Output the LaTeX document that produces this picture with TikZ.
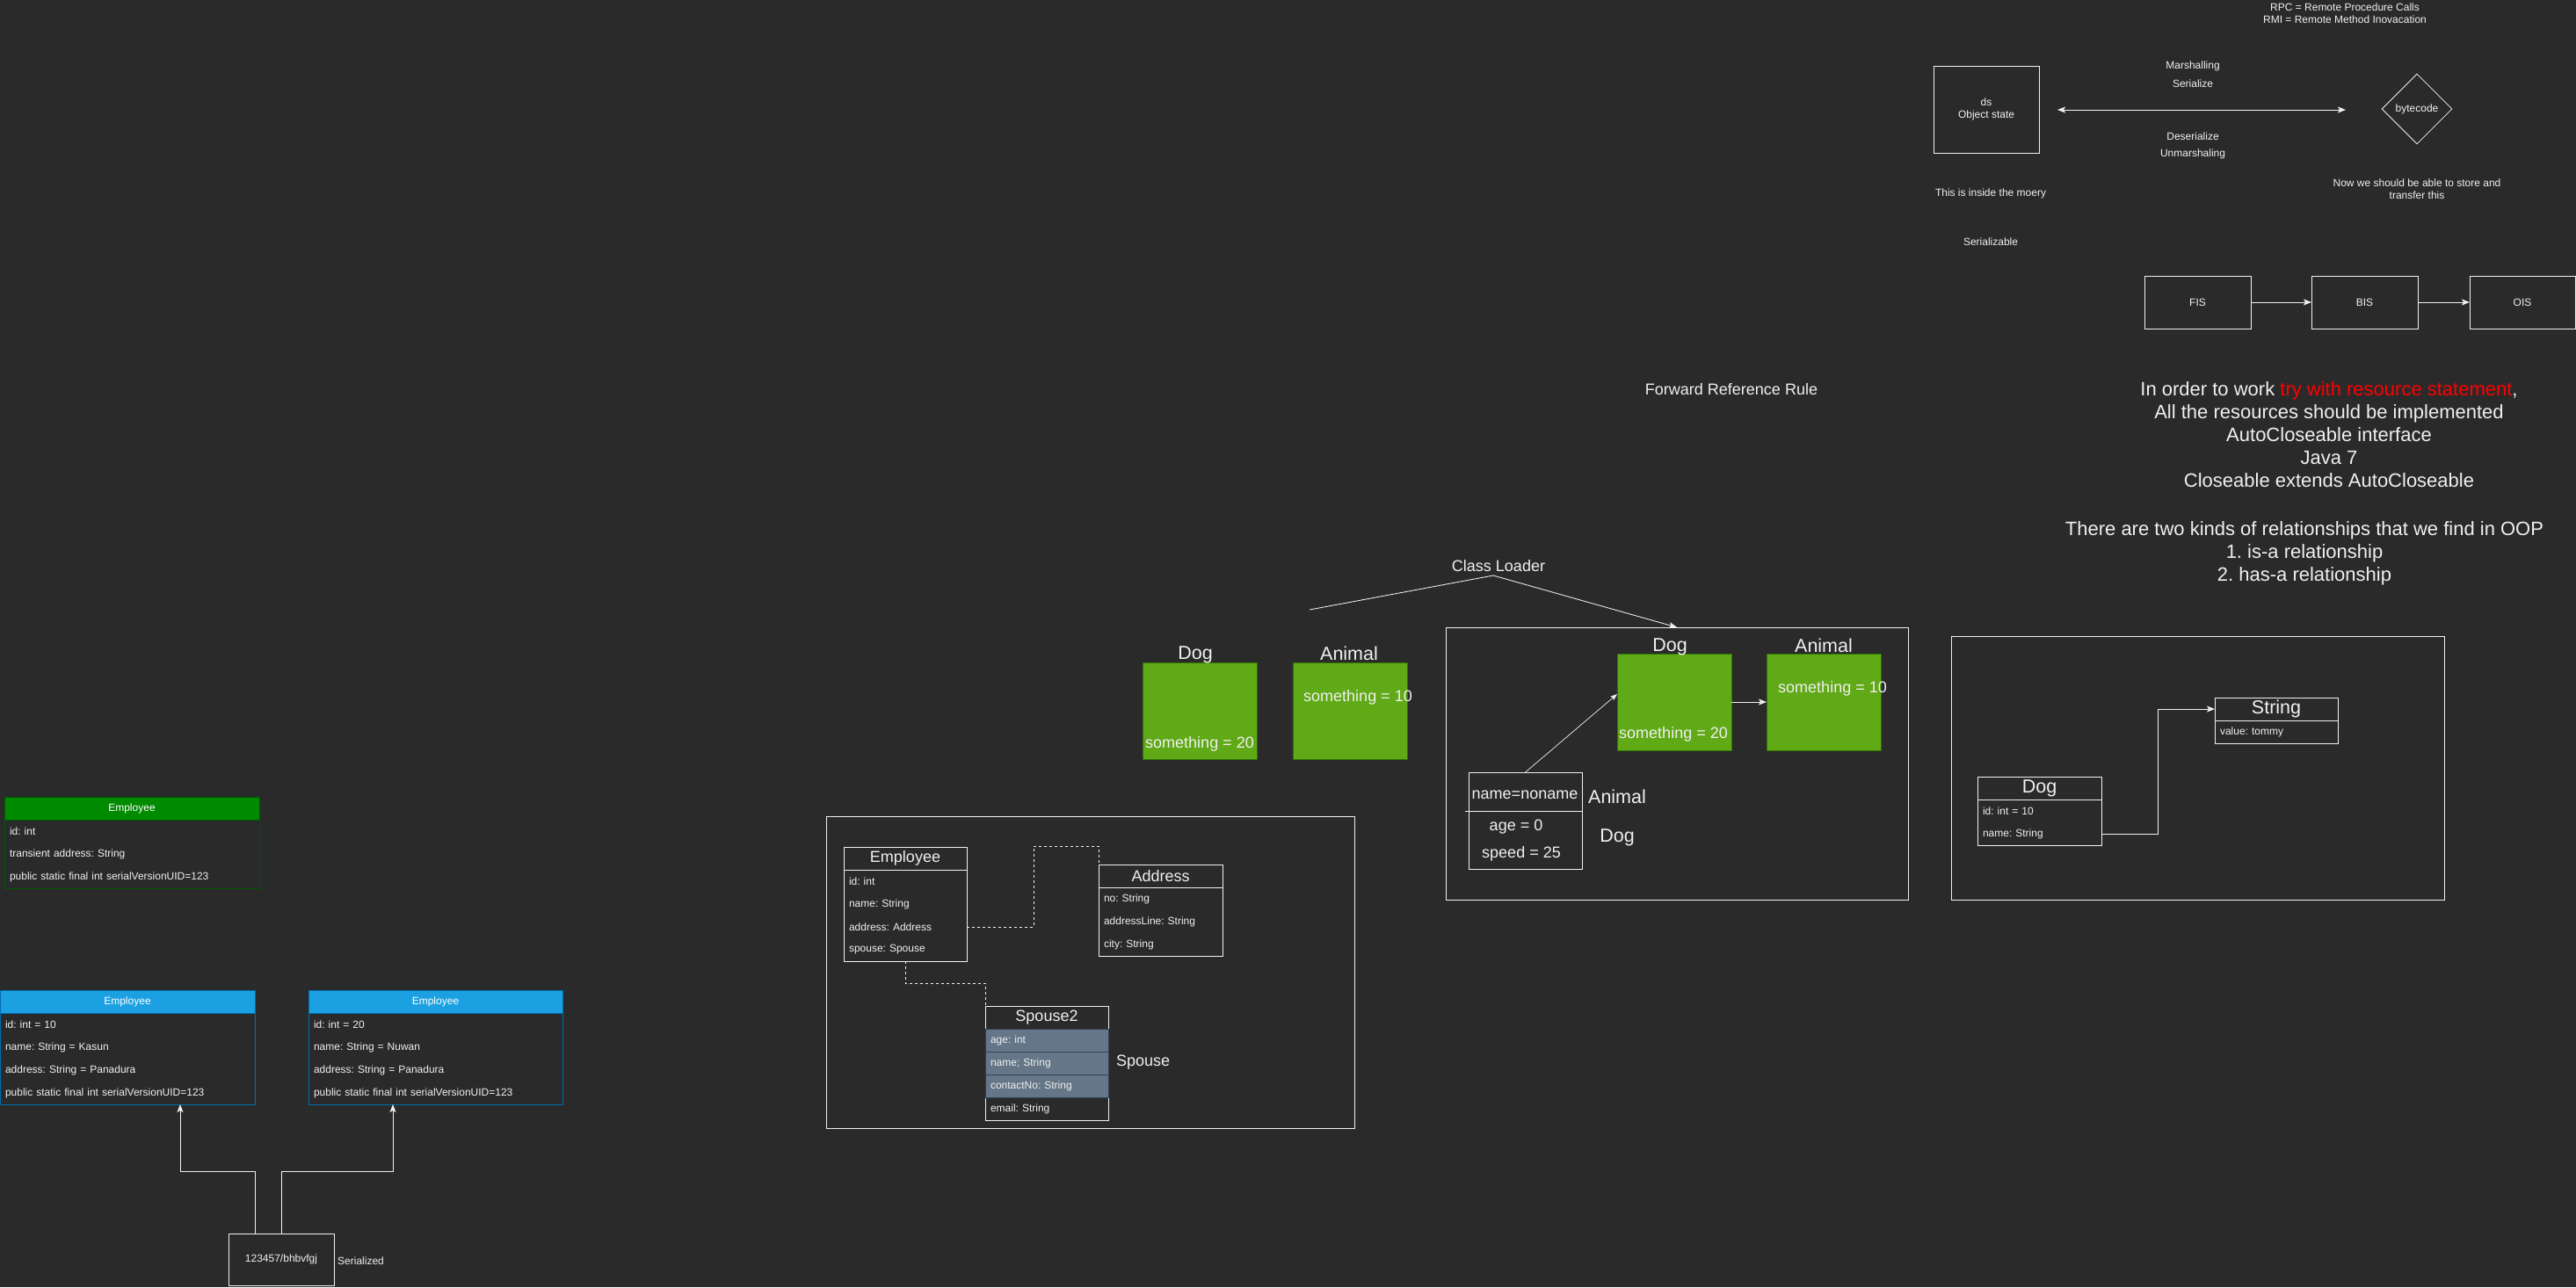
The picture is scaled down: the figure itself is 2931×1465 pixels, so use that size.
\documentclass[tikz,border=0pt]{standalone}
\usepackage{fontspec}
\setmainfont{Liberation Sans}
\usetikzlibrary{arrows.meta,shapes.geometric}
\definecolor{bg}{HTML}{2A2A2A}
\definecolor{fg}{HTML}{F0F0F0}
\definecolor{gfill}{HTML}{60A917}
\definecolor{gline}{HTML}{2D7600}
\definecolor{dgfill}{HTML}{008A00}
\definecolor{dgline}{HTML}{005700}
\definecolor{bfill}{HTML}{1BA1E2}
\definecolor{bline}{HTML}{006EAF}
\definecolor{sfill}{HTML}{647687}
\definecolor{sline}{HTML}{314354}
\definecolor{redtxt}{HTML}{FF0000}
\newcommand\fs[2]{\fontsize{#1}{#2}\selectfont\frenchspacing}
\begin{document}
\frenchspacing
\begin{tikzpicture}[x=1pt,y=-1pt,
  box/.style={draw=fg, line width=0.85pt, inner sep=0pt, outer sep=0pt, anchor=north west, text=fg, font=\fs{12}{14}},
  lbl/.style={text=fg, inner sep=0pt, align=center, font=\fs{12}{14}},
  urow/.style={anchor=north west, inner xsep=6pt, inner ysep=0pt, outer sep=0pt, minimum height=26pt, align=left, text=fg, font=\fs{12}{14}},
  arr/.style={draw=fg, line width=0.85pt, -{Stealth[length=9pt,width=7pt,inset=2pt]}},
  arrthin/.style={draw=fg, line width=0.7pt, -{Stealth[length=8pt,width=6pt,inset=2pt]}},
  darr/.style={draw=fg, line width=0.85pt, {Stealth[length=9pt,width=7pt,inset=2pt]}-{Stealth[length=9pt,width=7pt,inset=2pt]}},
  dline/.style={draw=fg, line width=0.85pt, dash pattern=on 3pt off 3pt},
  greenbox/.style={box, fill=gfill, draw=gline},
  big/.style={lbl, font=\fs{22}{26}},
  mid/.style={lbl, font=\fs{18}{22}},
  ttl/.style={lbl, font=\fs{21.5}{25}, anchor=base},
]
\useasboundingbox (0,0) rectangle (2931,1465);
\fill[bg] (0,0) rectangle (2931,1465);

% ---------- top right: serialization ----------
\node[lbl, font=\fs{12}{14.5}] (rpc) at (2668,15) {RPC = Remote Procedure Calls\\RMI = Remote Method Inovacation};
\node[box, minimum width=120pt, minimum height=99pt] (ds) at (2200,75) {};
\node[lbl] (dstxt) at (ds.center) {ds\\Object state};
\coordinate (ml) at (2341,125);
\coordinate (mr) at (2669,125);
\draw[darr] (ml) -- (mr);
\node[lbl] (marsh) at (2495,75) {Marshalling};
\node[lbl] (ser) at (2495,95) {Serialize};
\node[lbl] (deser) at (2495,155) {Deserialize};
\node[lbl] (unm) at (2495,175) {Unmarshaling};
\node[draw=fg, line width=0.85pt, diamond, minimum width=80pt, minimum height=80pt, inner sep=0pt, text=fg, font=\fs{12}{14}] (byte) at (2750,124) {bytecode};
\node[lbl] (mem) at (2265,220) {This is inside the moery};
\node[lbl] (serb) at (2265,275) {Serializable};
\node[lbl] (store) at (2750,215) {Now we should be able to store and\\transfer this};

\node[box, minimum width=121pt, minimum height=60pt] (fis) at (2440,314) {FIS};
\node[box, minimum width=121pt, minimum height=60pt] (bis) at (2630,314) {BIS};
\node[box, minimum width=120pt, minimum height=60pt] (ois) at (2810,314) {OIS};
\draw[arr] (fis) -- (bis);
\draw[arr] (bis) -- (ois);

\node[big] (tryres) at (2650,495) {In order to work \textcolor{redtxt}{try with resource statement},\\All the resources should be implemented\\AutoCloseable interface\\Java 7\\Closeable extends AutoCloseable};
\node[big] (rel) at (2622,630) {There are two kinds of relationships that we find in OOP\\1. is-a relationship\\2. has-a relationship};

\node[mid] (frr) at (1970,443) {Forward Reference Rule};

% ---------- class loader ----------
\node[mid] (cl) at (1705,644) {Class Loader};
\node[box, minimum width=526pt, minimum height=310pt] (frame1) at (1645,714) {};
\coordinate (clL) at (1490,694);
\coordinate (clA) at (1699,655);
\draw[fg, line width=0.85pt] (clL) -- (clA);
\draw[arr] (clA) -- (frame1.north);

\node[greenbox, minimum width=130pt, minimum height=110pt] (dog1) at (1300,754) {};
\node[ttl] (dog1l) at (1360,750) {Dog};
\node[mid] (dog1t) at (1365,847) {something = 20};
\node[greenbox, minimum width=130pt, minimum height=110pt] (ani1) at (1471,754) {};
\node[ttl] (ani1l) at (1535,751) {Animal};
\node[mid] (ani1t) at (1545,794) {something = 10};

\node[greenbox, minimum width=130pt, minimum height=110pt] (dog2) at (1840,744) {};
\node[ttl] (dog2l) at (1900,741) {Dog};
\node[mid] (dog2t) at (1904,836) {something = 20};
\node[greenbox, minimum width=130pt, minimum height=110pt] (ani2) at (2010,744) {};
\node[ttl] (ani2l) at (2075,742) {Animal};
\node[mid] (ani2t) at (2085,784) {something = 10};
\draw[arr] (dog2) -- (ani2);

\node[box, minimum width=129pt, minimum height=110pt] (obj) at (1671,879) {};
\coordinate (divL) at (1667,923);
\draw[fg, line width=0.85pt] (divL) -- (obj.east |- divL);
\node[mid] (nm) at (1735,905) {name=noname};
\node[mid] (age) at (1725,941) {age = 0};
\node[mid] (spd) at (1731,972) {speed = 25};
\draw[arrthin] (obj.north) -- ([yshift=9pt]dog2.west);
\node[lbl, font=\fs{21.5}{25}] (ani3) at (1840,907) {Animal};
\node[lbl, font=\fs{21.5}{25}] (dog3) at (1840,953) {Dog};

% ---------- right frame: Dog has-a String ----------
\node[box, minimum width=561pt, minimum height=300pt] (frame2) at (2220,724) {};
\node[box, minimum width=140pt, minimum height=52pt] (strc) at (2520,794) {};
\node[box, minimum width=140pt, minimum height=26pt, font=\fs{21.5}{24}] (strh) at (2520,794) {String};
\node[urow, text width=128pt] (strv) at (2520,820) {value: tommy};
\node[box, minimum width=141pt, minimum height=78pt] (dogc) at (2250,884) {};
\node[box, minimum width=141pt, minimum height=26pt, font=\fs{21.5}{24}] (dogh) at (2250,884) {Dog};
\node[urow, text width=129pt] (dogid) at (2250,910) {id: int = 10};
\node[urow, text width=129pt] (dognm) at (2250,936) {name: String};
\draw[arr] (dognm.east) -- ++(64,0) |- (strh.west);

% ---------- middle frame: Employee / Address / Spouse2 ----------
\node[box, minimum width=601pt, minimum height=355pt] (frame3) at (940,929) {};
\node[box, minimum width=140pt, minimum height=130pt] (emp) at (960,964) {};
\node[box, minimum width=140pt, minimum height=26pt, font=\fs{18}{22}] (emph) at (960,964) {Employee};
\node[urow, text width=128pt] (eid) at (960,990) {id: int};
\node[urow, text width=128pt] (enm) at (960,1016) {name: String};
\node[urow, text width=128pt] (eaddr) at (960,1042) {address: Address};
\node[urow, text width=128pt] (esp) at (960,1068) {spouse: Spouse};

\node[box, minimum width=141pt, minimum height=104pt] (addr) at (1250,984) {};
\node[box, minimum width=141pt, minimum height=26pt, font=\fs{18}{22}] (addrh) at (1250,984) {Address};
\node[urow, text width=129pt] (ano) at (1250,1010) {no: String};
\node[urow, text width=129pt] (aline) at (1250,1036) {addressLine: String};
\node[urow, text width=129pt] (acity) at (1250,1062) {city: String};

\node[box, minimum width=140pt, minimum height=130pt] (sp) at (1121,1145) {};
\node[box, minimum width=140pt, minimum height=26pt, font=\fs{18}{22}] (sph) at (1121,1145) {Spouse2};
\node[urow, text width=128pt, fill=sfill, draw=sline, line width=0.85pt] (sage) at (1121,1171) {age: int};
\node[urow, text width=128pt, fill=sfill, draw=sline, line width=0.85pt] (snm) at (1121,1197) {name; String};
\node[urow, text width=128pt, fill=sfill, draw=sline, line width=0.85pt] (sct) at (1121,1223) {contactNo: String};
\node[urow, text width=128pt] (sem) at (1121,1249) {email: String};
\node[mid, anchor=west] (spl) at (1270,1209) {Spouse};

\draw[dline] (eaddr.east) -- ++(76,0) -- ++(0,-92) -| (addr.north west);
\draw[dline] (emp.south) -- ++(0,25) -| (sp.north west);

% ---------- left: Employee classes ----------
\node[box, draw=dgline, minimum width=290pt, minimum height=104pt] (gemp) at (5,907) {};
\node[box, draw=dgline, fill=dgfill, minimum width=290pt, minimum height=26pt, text=white] (gemph) at (5,907) {Employee};
\node[urow, text width=278pt] (gid) at (5,933) {id: int};
\node[urow, text width=278pt] (gaddr) at (5,959) {transient address: String};
\node[urow, text width=278pt] (guid) at (5,985) {public static final int serialVersionUID=123};

\node[box, draw=bline, minimum width=290pt, minimum height=130pt] (emp1) at (0,1127) {};
\node[box, draw=bline, fill=bfill, minimum width=290pt, minimum height=26pt, text=white] (emp1h) at (0,1127) {Employee};
\node[urow, text width=278pt] (e1id) at (0,1153) {id: int = 10};
\node[urow, text width=278pt] (e1nm) at (0,1179) {name: String = Kasun};
\node[urow, text width=278pt] (e1ad) at (0,1205) {address: String = Panadura};
\node[urow, text width=278pt] (e1uid) at (0,1231) {public static final int serialVersionUID=123};

\node[box, draw=bline, minimum width=289pt, minimum height=130pt] (emp2) at (351,1127) {};
\node[box, draw=bline, fill=bfill, minimum width=289pt, minimum height=26pt, text=white] (emp2h) at (351,1127) {Employee};
\node[urow, text width=277pt] (e2id) at (351,1153) {id: int = 20};
\node[urow, text width=277pt] (e2nm) at (351,1179) {name: String = Nuwan};
\node[urow, text width=277pt] (e2ad) at (351,1205) {address: String = Panadura};
\node[urow, text width=277pt] (e2uid) at (351,1231) {public static final int serialVersionUID=123};

\node[box, minimum width=120pt, minimum height=59pt] (serbox) at (260,1404) {123457/bhbvfgj};
\node[lbl, anchor=west] (serl) at (384,1435) {Serialized};
\draw[arr] ([xshift=-30pt]serbox.north) -- ++(0,-71) -| ([xshift=60pt]emp1.south);
\draw[arr] (serbox.north) -- ++(0,-71) -| ([xshift=-48.5pt]emp2.south);
\end{tikzpicture}
\end{document}
